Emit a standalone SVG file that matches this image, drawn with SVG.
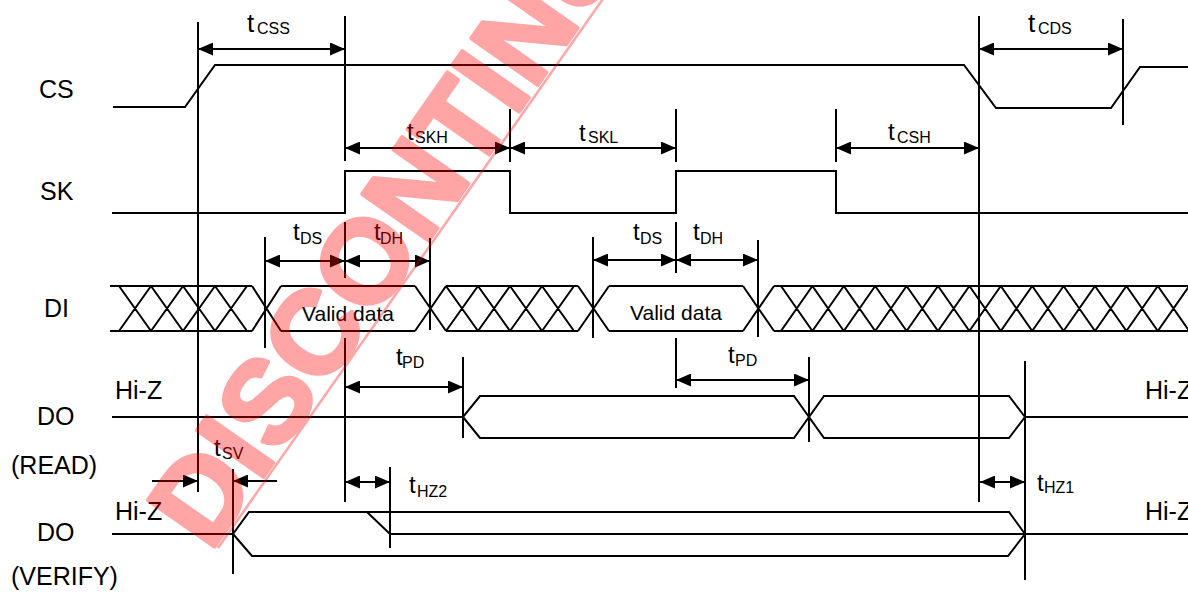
<svg xmlns="http://www.w3.org/2000/svg" width="1188" height="592" viewBox="0 0 1188 592">
<defs>
<marker id="ah" viewBox="0 0 15 13" refX="15" refY="6.5" markerWidth="15" markerHeight="13" markerUnits="userSpaceOnUse" orient="auto-start-reverse">
<path d="M0,0 L15,6.5 L0,13 z" fill="#000"/>
</marker>
</defs>
<style>
.w{fill:none;stroke:#000;stroke-width:2}
.g{fill:none;stroke:#000;stroke-width:2}
.a{fill:none;stroke:#000;stroke-width:2;marker-start:url(#ah);marker-end:url(#ah)}
.a1{fill:none;stroke:#000;stroke-width:2;marker-end:url(#ah)}
.lbl{font-family:"Liberation Sans",Arial,sans-serif;font-size:25px;fill:#000}
.t{font-family:"Liberation Sans",Arial,sans-serif;font-size:24px;fill:#000}
.tb{font-size:26px}
.s{font-size:16px}
.vd{font-family:"Liberation Sans",Arial,sans-serif;font-size:21px;fill:#000;text-anchor:middle}
.wm{font-family:"Liberation Sans",Arial,sans-serif;font-size:118px;font-weight:bold;fill:#ff0000;stroke:#ff0000;stroke-width:4;stroke-linejoin:round}
</style>
<rect width="1188" height="592" fill="#fff"/>

<g id="names">
<text class="lbl" x="39" y="98">CS</text>
<text class="lbl" x="40" y="200">SK</text>
<text class="lbl" x="44" y="317">DI</text>
<text class="lbl" x="37" y="425">DO</text>
<text class="lbl" x="11" y="474">(READ)</text>
<text class="lbl" x="37" y="541">DO</text>
<text class="lbl" x="11" y="585">(VERIFY)</text>
</g>

<g id="cs">
<polyline class="w" points="113,107 185,107 215,65 964,65 996,108 1111,108 1140,67 1188,67"/>
</g>

<g id="sk">
<polyline class="w" points="112,213 345,213 345,171 510,171 510,213 676,213 676,171 836,171 836,213 1188,213"/>
</g>

<g id="di">
<path class="w" d="M110,286 H252 M110,331 H252 M281,286 H415 M281,331 H415 M446,286 H578 M446,331 H578 M609,286 H743 M609,331 H743 M774,286 H1188 M774,331 H1188"/>
<path class="w" d="M119,286 L151,331 M119,331 L151,286 M151,286 L183,331 M151,331 L183,286 M183,286 L215,331 M183,331 L215,286 M215,286 L247,331 M215,331 L247,286
M252,286 L281,331 M252,331 L281,286 M415,286 L446,331 M415,331 L446,286
M446,286 L478,331 M446,331 L478,286 M478,286 L510,331 M478,331 L510,286 M510,286 L542,331 M510,331 L542,286 M542,286 L574,331 M542,331 L574,286
M578,286 L609,331 M578,331 L609,286 M743,286 L774,331 M743,331 L774,286
M781,286 L812.4,331 M781,331 L812.4,286 M812.4,286 L843.8,331 M812.4,331 L843.8,286 M843.8,286 L875.2,331 M843.8,331 L875.2,286 M875.2,286 L906.6,331 M875.2,331 L906.6,286 M906.6,286 L938,331 M906.6,331 L938,286 M938,286 L969.4,331 M938,331 L969.4,286 M969.4,286 L1000.8,331 M969.4,331 L1000.8,286 M1000.8,286 L1032.2,331 M1000.8,331 L1032.2,286 M1032.2,286 L1063.6,331 M1032.2,331 L1063.6,286 M1063.6,286 L1095,331 M1063.6,331 L1095,286 M1095,286 L1126.4,331 M1095,331 L1126.4,286 M1126.4,286 L1157.8,331 M1126.4,331 L1157.8,286 M1157.8,286 L1189.2,331 M1157.8,331 L1189.2,286"/>
<text class="vd" x="348" y="321">Valid data</text>
<text class="vd" x="676" y="320">Valid data</text>
</g>

<g id="do-read">
<path class="w" d="M112,417 H463 L480,396 H794 L824,438 H1009 L1025,417 H1188 M463,417 L480,438 H794 L824,396 H1009 L1025,417"/>
<text class="lbl" x="115" y="399">Hi-Z</text>
<text class="lbl" x="1145" y="399">Hi-Z</text>
</g>

<g id="do-verify">
<path class="w" d="M112,534 H233 L249,512 H1009 L1025,534 M233,534 L252,556 H1008 L1025,534 M367,512 L390,534 H1188"/>
<text class="lbl" x="115" y="520">Hi-Z</text>
<text class="lbl" x="1145" y="520">Hi-Z</text>
</g>

<g id="connectors">
<path class="g" d="M198,22 V492 M345,16 V161 M345,222 V278 M345,338 V502 M1123,19 V125 M979,16 V502 M510,109 V162 M676,109 V162 M836,109 V162 M265,237 V348 M430,238 V330 M593,237 V338 M676,222 V273 M758,240 V337 M463,357 V438 M676,338 V388 M809,357 V442 M1025,361 V580 M233,469 V574 M390,467 V548"/>
<line class="a" x1="198" y1="49" x2="345" y2="49"/>
<line class="a" x1="979" y1="49" x2="1123" y2="49"/>
<line class="a" x1="345" y1="148" x2="510" y2="148"/>
<line class="a" x1="510" y1="148" x2="676" y2="148"/>
<line class="a" x1="836" y1="148" x2="979" y2="148"/>
<line class="a" x1="265" y1="261" x2="345" y2="261"/>
<line class="a" x1="345" y1="261" x2="430" y2="261"/>
<line class="a" x1="593" y1="260" x2="676" y2="260"/>
<line class="a" x1="676" y1="260" x2="758" y2="260"/>
<line class="a" x1="345" y1="387" x2="463" y2="387"/>
<line class="a" x1="676" y1="380" x2="809" y2="380"/>
<line class="a" x1="345" y1="482" x2="390" y2="482"/>
<line class="a" x1="980" y1="482" x2="1025" y2="482"/>
<line class="a1" x1="152" y1="481" x2="198" y2="481"/>
<line class="a1" x1="277" y1="481" x2="233" y2="481"/>
</g>

<g id="timing-labels">
<text class="t tb" x="247" y="32">t<tspan class="s" x="257" dy="2">CSS</tspan></text>
<text class="t tb" x="1028" y="32">t<tspan class="s" x="1038" dy="2">CDS</tspan></text>
<text class="t" x="407" y="140">t<tspan class="s" x="415" dy="3">SKH</tspan></text>
<text class="t" x="579" y="141">t<tspan class="s" x="588" dy="2">SKL</tspan></text>
<text class="t" x="888" y="140">t<tspan class="s" x="897" dy="3">CSH</tspan></text>
<text class="t" x="293" y="240">t<tspan class="s" x="300" dy="4">DS</tspan></text>
<text class="t" x="374" y="240">t<tspan class="s" x="380" dy="4">DH</tspan></text>
<text class="t" x="633" y="240">t<tspan class="s" x="640" dy="4">DS</tspan></text>
<text class="t" x="693" y="240">t<tspan class="s" x="700" dy="4">DH</tspan></text>
<text class="t" x="396" y="365">t<tspan class="s" x="402" dy="3">PD</tspan></text>
<text class="t" x="728" y="363">t<tspan class="s" x="735" dy="3">PD</tspan></text>
<text class="t" x="214" y="456">t<tspan class="s" x="222" dy="3">SV</tspan></text>
<text class="t" x="409" y="493">t<tspan class="s" x="417" dy="4">HZ2</tspan></text>
<text class="t" x="1037" y="491">t<tspan class="s" x="1044" dy="2">HZ1</tspan></text>
</g>

<g id="watermark" opacity="0.35">
<text class="wm" transform="translate(210,553) rotate(-55)">DISCONTINUED</text>
<line x1="218" y1="548" x2="640" y2="-54" stroke="#ff0000" stroke-width="2.5"/>
</g>
</svg>
